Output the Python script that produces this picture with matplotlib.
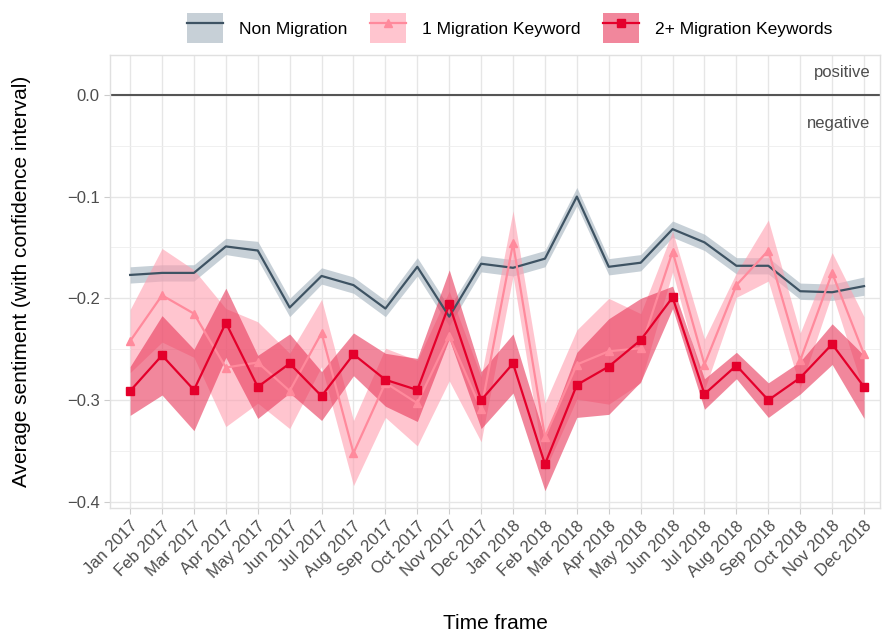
import numpy as np
import matplotlib.pyplot as plt
from matplotlib.patches import Patch
from matplotlib.lines import Line2D

plt.rcParams['font.family'] = ['Liberation Sans', 'DejaVu Sans']

months = ['Jan 2017', 'Feb 2017', 'Mar 2017', 'Apr 2017', 'May 2017', 'Jun 2017',
          'Jul 2017', 'Aug 2017', 'Sep 2017', 'Oct 2017', 'Nov 2017', 'Dec 2017',
          'Jan 2018', 'Feb 2018', 'Mar 2018', 'Apr 2018', 'May 2018', 'Jun 2018',
          'Jul 2018', 'Aug 2018', 'Sep 2018', 'Oct 2018', 'Nov 2018', 'Dec 2018']

# mean sentiment and half-width of confidence interval
non_mig = [-0.177, -0.175, -0.175, -0.149, -0.153, -0.209, -0.178, -0.187, -0.210, -0.169, -0.218, -0.166,
           -0.170, -0.161, -0.100, -0.169, -0.165, -0.132, -0.145, -0.168, -0.168, -0.193, -0.194, -0.188]
non_mig_ci = [0.008, 0.008, 0.008, 0.008, 0.009, 0.009, 0.008, 0.008, 0.008, 0.009, 0.009, 0.008,
              0.008, 0.008, 0.009, 0.008, 0.008, 0.008, 0.008, 0.008, 0.008, 0.008, 0.008, 0.009]

one_mig = [-0.242, -0.197, -0.215, -0.268, -0.263, -0.291, -0.234, -0.352, -0.283, -0.303, -0.237, -0.309,
           -0.146, -0.336, -0.265, -0.252, -0.249, -0.154, -0.265, -0.187, -0.153, -0.261, -0.175, -0.255]
one_mig_ci = [0.031, 0.046, 0.043, 0.058, 0.040, 0.037, 0.033, 0.032, 0.034, 0.042, 0.044, 0.032,
              0.032, 0.033, 0.034, 0.052, 0.034, 0.020, 0.025, 0.012, 0.030, 0.027, 0.020, 0.037]

two_mig = [-0.291, -0.256, -0.290, -0.224, -0.287, -0.264, -0.296, -0.255, -0.280, -0.290, -0.206, -0.300,
           -0.264, -0.363, -0.285, -0.267, -0.241, -0.199, -0.294, -0.266, -0.300, -0.278, -0.245, -0.287]
two_mig_ci = [0.024, 0.039, 0.040, 0.034, 0.031, 0.029, 0.024, 0.021, 0.026, 0.031, 0.034, 0.028,
              0.029, 0.026, 0.032, 0.047, 0.041, 0.011, 0.015, 0.013, 0.017, 0.016, 0.020, 0.031]

x = np.arange(len(months))
grey_txt = '#4d4d4d'

fig = plt.figure(figsize=(8.83, 6.37), dpi=100)
ax = fig.add_axes([0.1246, 0.2025, 0.872, 0.711])

series = [
    (non_mig, non_mig_ci, '#3e5363', '#a9b7c2', 0.65, None, 'Non Migration'),
    (one_mig, one_mig_ci, '#ff8a9c', '#ff9fb0', 0.6, '^', '1 Migration Keyword'),
    (two_mig, two_mig_ci, '#e4002b', '#e8385a', 0.6, 's', '2+ Migration Keywords'),
]

for vals, ci, lc, fc, alpha, mk, lab in series:
    v = np.array(vals)
    c = np.array(ci)
    ax.fill_between(x, v - c, v + c, color=fc, alpha=alpha, linewidth=0, zorder=2)
for vals, ci, lc, fc, alpha, mk, lab in series:
    ax.plot(x, vals, color=lc, linewidth=1.6, marker=mk, markersize=6, zorder=3)

ax.axhline(0, color='#555555', linewidth=1.5, zorder=2)
ax.text(23.2, 0.022, 'positive', ha='right', va='center', fontsize=12, color=grey_txt)
ax.text(23.2, -0.028, 'negative', ha='right', va='center', fontsize=12, color=grey_txt)

ax.set_xlim(-0.63, 23.5)
ax.set_ylim(-0.406, 0.039)
ax.set_xticks(x)
ax.set_xticklabels(months, rotation=45, ha='right', rotation_mode='anchor')
ax.set_yticks([0.0, -0.1, -0.2, -0.3, -0.4])
ax.set_yticklabels(['0.0', '\u22120.1', '\u22120.2', '\u22120.3', '\u22120.4'])
ax.set_yticks([-0.05, -0.15, -0.25, -0.35], minor=True)
ax.tick_params(axis='both', which='major', labelsize=12, labelcolor=grey_txt,
               color='#cccccc', length=4)
ax.tick_params(axis='y', which='minor', length=0)
ax.grid(True, which='major', color='#e6e6e6', linewidth=1.0, zorder=0)
ax.grid(True, which='minor', axis='y', color='#eeeeee', linewidth=0.6, zorder=0)
ax.set_axisbelow(True)
for side in ['top', 'right', 'bottom', 'left']:
    ax.spines[side].set_color('#e0e0e0')
    ax.spines[side].set_linewidth(1.0)

ax.set_xlabel('Time frame', fontsize=15, labelpad=24)
ax.set_ylabel('Average sentiment (with confidence interval)', fontsize=15)
ax.yaxis.set_label_coords(-0.102, 0.5)

handles = []
for vals, ci, lc, fc, alpha, mk, lab in series:
    patch = Patch(facecolor=fc, alpha=alpha, edgecolor='none')
    line = Line2D([], [], color=lc, linewidth=1.6, marker=mk, markersize=6)
    handles.append((patch, line))
fig.legend(handles, [s[6] for s in series], loc='upper center', bbox_to_anchor=(0.577, 1.004),
           ncol=3, frameon=False, fontsize=12.5, handlelength=2.1, handleheight=2.3,
           columnspacing=1.3, handletextpad=0.9)

fig.savefig('out.png', dpi=100)
